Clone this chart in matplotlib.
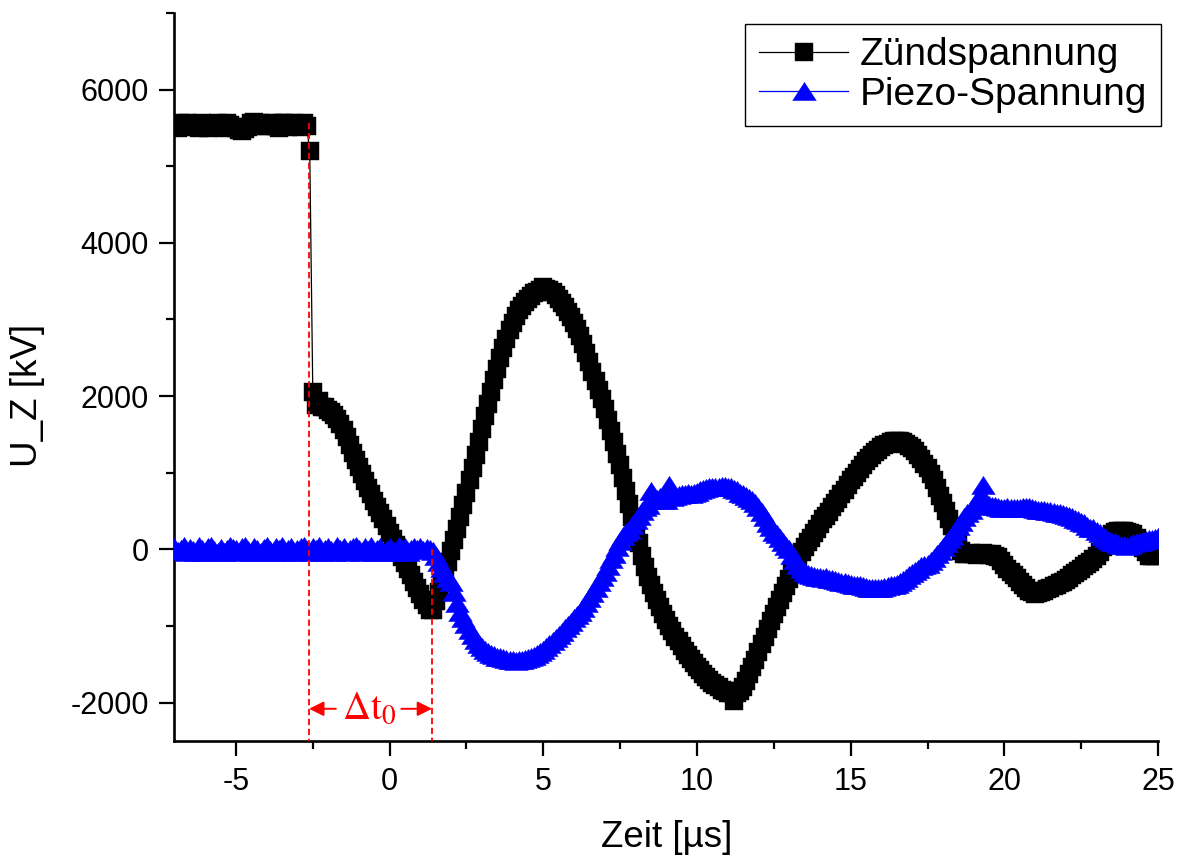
import numpy as np
import matplotlib
matplotlib.use("Agg")
import matplotlib.pyplot as plt
from matplotlib.markers import MarkerStyle

plt.rcParams['font.family'] = ['Liberation Sans', 'DejaVu Sans']
plt.rcParams['axes.unicode_minus'] = False
plt.rcParams['mathtext.fontset'] = 'stix'

# Sample times in microseconds (0.1 us grid from -7 to 25)
t_us = np.round(np.arange(321) * 0.1 - 7.0, 1)

# Ignition voltage, one row per microsecond
u_zuend = [
    5540, 5500, 5560, 5530, 5570, 5510, 5550, 5540, 5500, 5560,   # -7
    5540, 5500, 5550, 5520, 5560, 5530, 5500, 5560, 5540, 5510,   # -6
    5500, 5470, 5460, 5490, 5510, 5560, 5580, 5550, 5560, 5520,   # -5
    5530, 5550, 5570, 5520, 5500, 5560, 5570, 5510, 5530, 5560,   # -4
    5540, 5510, 5560, 5520, 5200, 2050, 1880, 1940, 1860, 1860,   # -3
    1820, 1790, 1750, 1700, 1640, 1560, 1460, 1360, 1260, 1160,   # -2
    1070, 980, 890, 800, 720, 630, 550, 470, 390, 300,            # -1
    220, 140, 60, -20, -100, -180, -260, -340, -420, -500,        # 0
    -580, -660, -730, -790, -790, -680, -560, -440, -300, -160,   # 1
    -20, 120, 270, 420, 580, 740, 900, 1060, 1230, 1400,          # 2
    1570, 1740, 1900, 2060, 2210, 2360, 2500, 2630, 2750, 2860,   # 3
    2960, 3050, 3120, 3180, 3230, 3270, 3310, 3340, 3360, 3380,   # 4
    3420, 3400, 3380, 3360, 3320, 3270, 3220, 3160, 3100, 3030,   # 5
    2960, 2880, 2790, 2680, 2560, 2440, 2320, 2200, 2080, 1960,   # 6
    1830, 1690, 1550, 1400, 1250, 1100, 930, 760, 590, 420,       # 7
    250, 80, -80, -230, -360, -470, -570, -660, -750, -840,       # 8
    -920, -1000, -1070, -1140, -1200, -1260, -1320, -1380, -1430, -1480,  # 9
    -1530, -1580, -1620, -1660, -1700, -1740, -1770, -1800, -1830, -1850, # 10
    -1870, -1880, -1980, -1880, -1850, -1800, -1720, -1630, -1540, -1440, # 11
    -1340, -1240, -1140, -1040, -940, -840, -750, -660, -570, -480,       # 12
    -390, -300, -210, -120, -40, 30, 90, 150, 210, 270,           # 13
    330, 390, 440, 490, 550, 600, 660, 720, 780, 840,             # 14
    900, 950, 1000, 1050, 1100, 1150, 1190, 1230, 1270, 1300,     # 15
    1330, 1360, 1380, 1400, 1410, 1420, 1410, 1400, 1380, 1350,   # 16
    1320, 1280, 1230, 1180, 1120, 1060, 990, 900, 800, 700,       # 17
    600, 500, 400, 300, 200, 90, -20, -60, -60, -50,              # 18
    -60, -70, -60, -50, -60, -70, -60, -80, -100, -150,           # 19
    -200, -250, -290, -330, -370, -420, -470, -510, -540, -560,   # 20
    -580, -570, -560, -540, -520, -500, -480, -460, -440, -420,   # 21
    -400, -370, -340, -310, -280, -250, -220, -190, -160, -120,   # 22
    -80, -30, 30, 90, 150, 200, 230, 240, 240, 240,               # 23
    230, 220, 200, 150, 80, 20, -40, -80, -90, -80,               # 24
    -60,
]

# Piezo voltage, one row per microsecond
u_piezo = [
    30, -20, 10, 40, -30, 20, -10, -30, 40, 0,                    # -7
    -30, 30, 40, -10, -30, 20, -30, 10, 40, 20,                   # -6
    0, -30, 30, 40, -10, -30, 30, 0, -30, 20,                     # -5
    40, -10, -30, 30, 0, 40, -30, 10, 30, -30,                    # -4
    0, 30, 40, -10, -30, 30, 0, 40, -30, 10,                      # -3
    30, -10, -30, 40, 0, 30, -30, 10, 30, 40,                     # -2
    0, -30, 30, -10, 40, -30, 10, 30, -30, 10,                    # -1
    30, -10, -30, 40, 0, 30, -30, 10, 30, 0,                      # 0
    30, -10, 20, 0, -20, -80, -160, -240, -310, -370,             # 1
    -420, -560, -700, -820, -900, -970, -1050, -1120, -1180, -1230,       # 2
    -1280, -1310, -1340, -1360, -1380, -1400, -1410, -1420, -1430, -1440, # 3
    -1440, -1450, -1440, -1440, -1430, -1420, -1410, -1390, -1370, -1340, # 4
    -1310, -1280, -1240, -1200, -1160, -1120, -1080, -1030, -990, -950,   # 5
    -900, -860, -820, -760, -700, -640, -570, -500, -430, -360,   # 6
    -290, -220, -130, -55, 30, 110, 180, 230, 250, 320,           # 7
    380, 440, 500, 550, 575, 760, 640, 660, 680, 650,             # 8
    640, 840, 690, 700, 710, 720, 720, 730, 720, 730,             # 9
    750, 770, 790, 800, 810, 810, 820, 820, 825, 825,             # 10
    820, 810, 790, 770, 740, 720, 700, 670, 640, 600,             # 11
    550, 490, 420, 350, 290, 230, 200, 150, 100, 50,              # 12
    0, -70, -140, -200, -250, -290, -320, -340, -350, -355,       # 13
    -360, -370, -360, -380, -390, -400, -410, -420, -430, -440,   # 14
    -450, -460, -470, -460, -480, -490, -500, -510, -500, -510,   # 15
    -500, -490, -480, -470, -460, -450, -420, -400, -370, -340,   # 16
    -310, -280, -250, -220, -200, -190, -150, -110, -60, -20,     # 17
    30, 80, 130, 180, 240, 300, 360, 420, 470, 520,               # 18
    580, 640, 700, 840, 620, 575, 560, 560, 550, 545,             # 19
    540, 550, 540, 540, 535, 540, 550, 550, 550, 540,             # 20
    530, 520, 520, 510, 505, 495, 490, 480, 470, 460,             # 21
    450, 440, 420, 400, 380, 360, 340, 310, 280, 275,             # 22
    240, 210, 180, 150, 120, 100, 90, 70, 60, 55,                 # 23
    50, 60, 80, 90, 100, 110, 120, 130, 140, 150,                 # 24
    160,
]

series_labels = ["Zündspannung", "Piezo-Spannung"]
x_ticks = [-5, 0, 5, 10, 15, 20, 25]
y_ticks = [-2000, 0, 2000, 4000, 6000]

# Delay markers: ignition step and onset of the piezo signal
t_ign = -2.62
t_piezo = 1.38
u_ign_top = 5560
arrow_level = -2080

fig = plt.figure(figsize=(11.87, 8.63), dpi=100)
ax = fig.add_axes([0.147, 0.1414, 0.8286, 0.8436])

wide_tri = MarkerStyle([(-1.0, -0.77), (1.0, -0.77), (0.0, 0.77), (-1.0, -0.77)])

ax.plot(t_us, u_zuend, color='black', lw=0.9, marker='s', ms=13.5,
        mfc='black', mec='black', mew=0.3, label=series_labels[0], zorder=2)
ax.plot(t_us, u_piezo, color='#0000ff', lw=0.9, marker=wide_tri, ms=17,
        mfc='#0000ff', mec='#0000ff', mew=0.3, label=series_labels[1], zorder=3)

# Red delay annotation
ax.plot([t_ign, t_ign], [u_ign_top, -2500], color='red', lw=1.3,
        ls=(0, (3.5, 2)), zorder=4)
ax.plot([t_piezo, t_piezo], [0, -2500], color='red', lw=1.3,
        ls=(0, (3.5, 2)), zorder=4)
arrow_kw = dict(arrowstyle='-|>', color='red', lw=1.4, mutation_scale=22,
                shrinkA=0, shrinkB=0)
ax.annotate('', xy=(t_ign, arrow_level), xytext=(-1.75, arrow_level),
            arrowprops=arrow_kw, zorder=5)
ax.annotate('', xy=(t_piezo, arrow_level), xytext=(0.38, arrow_level),
            arrowprops=arrow_kw, zorder=5)
ax.text(-0.68, arrow_level, r'$\Delta\mathrm{t}_{0}$', color='red',
        fontsize=28, ha='center', va='center', zorder=5)

ax.set_xlim(-7, 25)
ax.set_ylim(-2500, 7000)
ax.set_xticks(x_ticks)
ax.set_xticklabels([str(v) for v in x_ticks])
ax.set_yticks(y_ticks)
ax.set_yticklabels([str(v) for v in y_ticks])
ax.set_xticks(np.arange(-2.5, 25, 5), minor=True)
ax.set_yticks(np.arange(-1000, 7001, 2000), minor=True)

for side in ('top', 'right'):
    ax.spines[side].set_visible(False)
for side in ('left', 'bottom'):
    ax.spines[side].set_linewidth(1.9)

ax.tick_params(which='major', direction='out', length=10.5, width=1.6,
               labelsize=22, pad=8)
ax.tick_params(which='minor', direction='out', length=5.8, width=1.6)

ax.set_xlabel('Zeit [µs]', fontsize=26.5)
ax.set_ylabel('U_Z [kV]', fontsize=26.5)
ax.xaxis.set_label_coords(0.5, -0.108)
ax.yaxis.set_label_coords(-0.132, 0.475)

leg = ax.legend(loc='upper right', bbox_to_anchor=(1.003, 0.985),
                borderaxespad=0, fontsize=28, frameon=True, fancybox=False,
                edgecolor='black', framealpha=1, numpoints=1,
                handlelength=2.3, handletextpad=0.3, labelspacing=0.08,
                borderpad=0.35)
leg.get_frame().set_linewidth(1.0)

fig.savefig('out.png', dpi=100)
